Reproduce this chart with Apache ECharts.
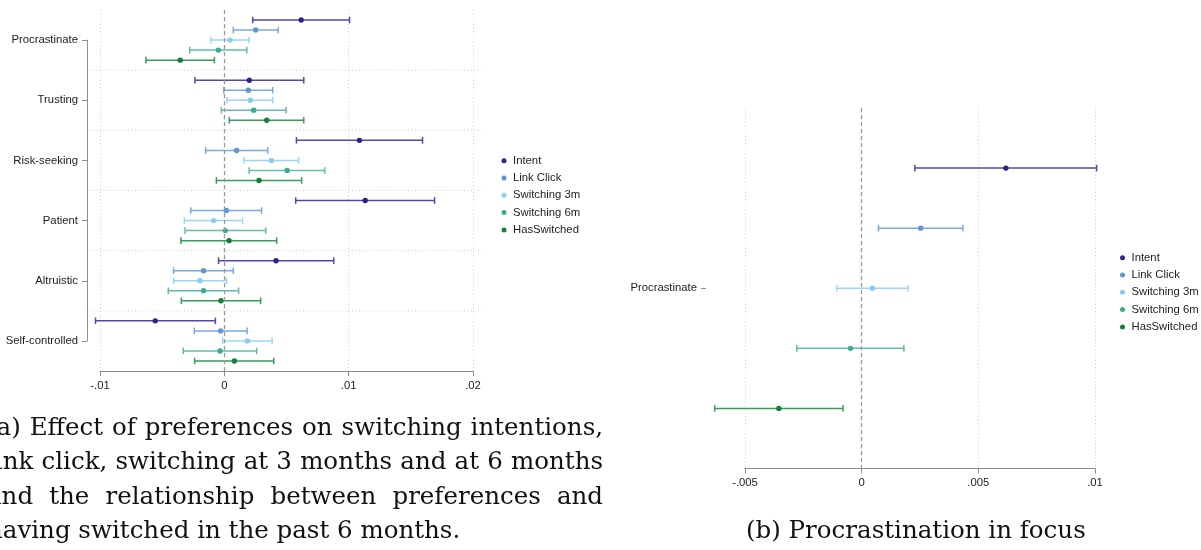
<!DOCTYPE html>
<html><head><meta charset="utf-8">
<script src="https://cdn.jsdelivr.net/npm/echarts@6/dist/echarts.min.js"></script>
<style>html,body{margin:0;padding:0;background:#fff;} #chart{width:1201px;height:550px;}</style>
</head><body><div id="chart"></div>
<script>
// ---------------- data ----------------
const leftCategories = ['Procrastinate', 'Trusting', 'Risk-seeking', 'Patient', 'Altruistic', 'Self-controlled'];
const rightCategories = ['Procrastinate'];
const seriesNames = ['Intent', 'Link Click', 'Switching 3m', 'Switching 6m', 'HasSwitched'];

const intentEst = [0.00618, 0.00201, 0.01087, 0.01133, 0.00416, -0.00556];
const intentLo  = [0.00228, -0.00236, 0.00580, 0.00574, -0.00046, -0.01036];
const intentHi  = [0.01007, 0.00639, 0.01594, 0.01691, 0.00880, -0.00072];

const linkEst = [0.00253, 0.00193, 0.00099, 0.00016, -0.00167, -0.00030];
const linkLo  = [0.00072, -0.00005, -0.00150, -0.00271, -0.00408, -0.00242];
const linkHi  = [0.00434, 0.00389, 0.00349, 0.00300, 0.00072, 0.00183];

const sw3Est = [0.00046, 0.00209, 0.00378, -0.00086, -0.00196, 0.00185];
const sw3Lo  = [-0.00107, 0.00022, 0.00159, -0.00322, -0.00408, -0.00014];
const sw3Hi  = [0.00199, 0.00389, 0.00598, 0.00147, 0.00016, 0.00384];

const sw6Est = [-0.00048, 0.00236, 0.00505, 0.00008, -0.00167, -0.00035];
const sw6Lo  = [-0.00278, -0.00024, 0.00199, -0.00316, -0.00451, -0.00330];
const sw6Hi  = [0.00181, 0.00497, 0.00808, 0.00333, 0.00115, 0.00260];

const hasEst = [-0.00355, 0.00341, 0.00279, 0.00038, -0.00027, 0.00081];
const hasLo  = [-0.00630, 0.00040, -0.00064, -0.00349, -0.00346, -0.00239];
const hasHi  = [-0.00080, 0.00639, 0.00622, 0.00421, 0.00292, 0.00397];

const leftTickValues = [-0.01, 0, 0.01, 0.02];
const leftTickLabels = ['-.01', '0', '.01', '.02'];
const rightTickValues = [-0.005, 0, 0.005, 0.01];
const rightTickLabels = ['-.005', '0', '.005', '.01'];

const captionA = [
  '(a) Effect of preferences on switching intentions,',
  'link click, switching at 3 months and at 6 months',
  'and the relationship between preferences and',
  'having switched in the past 6 months.'
];
const captionB = '(b) Procrastination in focus';

// ---------------- styling ----------------
const estimates = [intentEst, linkEst, sw3Est, sw6Est, hasEst];
const lows = [intentLo, linkLo, sw3Lo, sw6Lo, hasLo];
const highs = [intentHi, linkHi, sw3Hi, sw6Hi, hasHi];
const dotColors = ['#2f2386', '#5f97d0', '#89cdf1', '#3cab93', '#14803c'];
const lineColors = ['#5647a5', '#7aa9dc', '#9cd6f4', '#62bca7', '#3c9a5c'];
const axisGray = '#8c8c8c';
const gridGray = '#cdcdcd';
const sans = '"Liberation Sans", Arial, sans-serif';
const labelFont = 11.3;

function fmt(values, labels) {
  return function (v) {
    for (let i = 0; i < values.length; i++) if (Math.abs(values[i] - v) < 1e-9) return labels[i];
    return '';
  };
}

function makeRender(lineColor, dotColor) {
  return function (params, api) {
    const y = api.value(3);
    const a = api.coord([api.value(1), y]);
    const b = api.coord([api.value(2), y]);
    const e = api.coord([api.value(0), y]);
    const st = { stroke: lineColor, lineWidth: 1.5 };
    return {
      type: 'group', children: [
        { type: 'line', shape: { x1: a[0], y1: a[1], x2: b[0], y2: b[1] }, style: st },
        { type: 'line', shape: { x1: a[0], y1: a[1] - 3.3, x2: a[0], y2: a[1] + 3.3 }, style: st },
        { type: 'line', shape: { x1: b[0], y1: b[1] - 3.3, x2: b[0], y2: b[1] + 3.3 }, style: st },
        { type: 'circle', shape: { cx: e[0], cy: e[1], r: 2.7 }, style: { fill: dotColor } }
      ]
    };
  };
}

const zeroLine = {
  silent: true, symbol: ['none', 'none'], label: { show: false },
  lineStyle: { color: '#9a9a9a', type: [4, 3], width: 1.3 },
  data: [{ xAxis: 0 }]
};

const series = [];
// separators between category groups (left panel)
series.push({
  type: 'custom', name: 'sep', xAxisIndex: 0, yAxisIndex: 0, z: 1, silent: true,
  data: leftCategories.slice(1).map((c, i) => [0, i + 0.5]),
  encode: { x: 0, y: 1 },
  renderItem: function (params, api) {
    const cs = params.coordSys;
    const y = api.coord([0, api.value(1)])[1];
    return { type: 'line', shape: { x1: cs.x - 10.5, y1: y, x2: cs.x + cs.width + 9, y2: y },
      style: { stroke: gridGray, lineWidth: 1, lineDash: [1, 2.5] } };
  }
});

seriesNames.forEach((name, k) => {
  series.push({
    type: 'custom', name: name, xAxisIndex: 0, yAxisIndex: 0, z: 3,
    itemStyle: { color: dotColors[k] },
    data: leftCategories.map((c, i) => [estimates[k][i], lows[k][i], highs[k][i], i + (k - 2) / 6]),
    encode: { x: [0, 1, 2], y: 3 },
    renderItem: makeRender(lineColors[k], dotColors[k]),
    markLine: k === 0 ? zeroLine : undefined
  });
  series.push({
    type: 'custom', name: name, xAxisIndex: 2, yAxisIndex: 2, z: 3,
    itemStyle: { color: dotColors[k] },
    data: rightCategories.map((c, i) => [estimates[k][i], lows[k][i], highs[k][i], i + (k - 2)]),
    encode: { x: [0, 1, 2], y: 3 },
    renderItem: makeRender(lineColors[k], dotColors[k]),
    markLine: k === 0 ? zeroLine : undefined
  });
});

// ---------------- captions (justified serif text) ----------------
const measureCtx = document.createElement('canvas').getContext('2d');
const serif = '"DejaVu Serif", serif';
function measure(t, size) { measureCtx.font = size + 'px ' + serif; return measureCtx.measureText(t).width; }
const capSize = 26 * 340 / measure(captionB, 26);
const graphics = [];
function addLine(text, x0, x1, baseline, justify) {
  const words = text.split(' ');
  const widths = words.map(w => measure(w, capSize));
  const total = widths.reduce((s, w) => s + w, 0);
  const space = justify ? (x1 - x0 - total) / (words.length - 1) : measure(' ', capSize);
  let x = x0;
  words.forEach((w, i) => {
    graphics.push({ type: 'text', x: x, y: baseline - 0.35 * capSize, silent: true,
      style: { text: w, fill: '#111', font: capSize + 'px ' + serif, textAlign: 'left', textVerticalAlign: 'middle' } });
    x += widths[i] + space;
  });
}
const capBaselines = [437, 471.5, 506, 540.5];
captionA.forEach((t, i) => addLine(t, -13, 603, capBaselines[i], i < captionA.length - 1));
addLine(captionB, 746, 1086, 540.5, false);

// ---------------- option ----------------
const legendBase = {
  orient: 'vertical', itemWidth: 8, itemHeight: 5, itemGap: 5.3, selectedMode: false,
  data: seriesNames.map(n => ({ name: n, icon: 'circle' })),
  textStyle: { fontSize: labelFont, color: '#222', fontFamily: sans, lineHeight: 12 }
};

const option = {
  animation: false,
  backgroundColor: '#fff',
  grid: [
    { left: 100, top: 10, width: 373, height: 361 },
    { left: 100, top: 10 + 361 / 12, width: 373, height: 361 * 5 / 6 },
    { left: 745, top: 108, width: 350, height: 360.5 }
  ],
  xAxis: [
    {
      gridIndex: 0, type: 'value', min: -0.01, max: 0.02, interval: 0.01, position: 'bottom',
      axisLine: { show: true, onZero: false, lineStyle: { color: axisGray, width: 1 } },
      axisTick: { show: true, length: 5, lineStyle: { color: axisGray } },
      axisLabel: { color: '#222', fontSize: labelFont, fontFamily: sans, margin: 9, formatter: fmt(leftTickValues, leftTickLabels) },
      splitLine: { show: true, lineStyle: { color: gridGray, type: [1, 2.5], width: 1 } }
    },
    { gridIndex: 1, type: 'value', min: 0, max: 1, show: false, axisLine: { onZero: false } },
    {
      gridIndex: 2, type: 'value', min: -0.005, max: 0.01, interval: 0.005, position: 'bottom',
      axisLine: { show: true, onZero: false, lineStyle: { color: axisGray, width: 1 } },
      axisTick: { show: true, length: 5, lineStyle: { color: axisGray } },
      axisLabel: { color: '#222', fontSize: labelFont, fontFamily: sans, margin: 9, formatter: fmt(rightTickValues, rightTickLabels) },
      splitLine: { show: true, lineStyle: { color: gridGray, type: [1, 2.5], width: 1 } }
    }
  ],
  yAxis: [
    { gridIndex: 0, type: 'value', min: -0.5, max: leftCategories.length - 0.5, inverse: true, show: false, axisLine: { onZero: false } },
    {
      gridIndex: 1, type: 'value', min: 0, max: leftCategories.length - 1, interval: 1, inverse: true, offset: 13, position: 'left',
      axisLine: { show: true, onZero: false, lineStyle: { color: axisGray, width: 1 } },
      axisTick: { show: true, length: 5, lineStyle: { color: axisGray } },
      axisLabel: { color: '#222', fontSize: labelFont, fontFamily: sans, margin: 9, formatter: v => leftCategories[Math.round(v)] || '' },
      splitLine: { show: false }
    },
    {
      gridIndex: 2, type: 'value', min: -3, max: 3, inverse: true, offset: 39, position: 'left',
      axisLine: { show: false, onZero: false },
      axisTick: { show: true, length: 5, lineStyle: { color: axisGray }, customValues: [0] },
      axisLabel: { color: '#222', fontSize: labelFont, fontFamily: sans, margin: 9, customValues: [0], formatter: v => rightCategories[Math.round(v)] || '' },
      splitLine: { show: false }
    }
  ],
  legend: [
    Object.assign({}, legendBase, { left: 496.5, top: 149.7 }),
    Object.assign({}, legendBase, { left: 1115, top: 246.7 })
  ],
  graphic: graphics,
  series: series
};

const chart = echarts.init(document.getElementById('chart'), null, { renderer: 'canvas' });
chart.setOption(option);
</script></body></html>
